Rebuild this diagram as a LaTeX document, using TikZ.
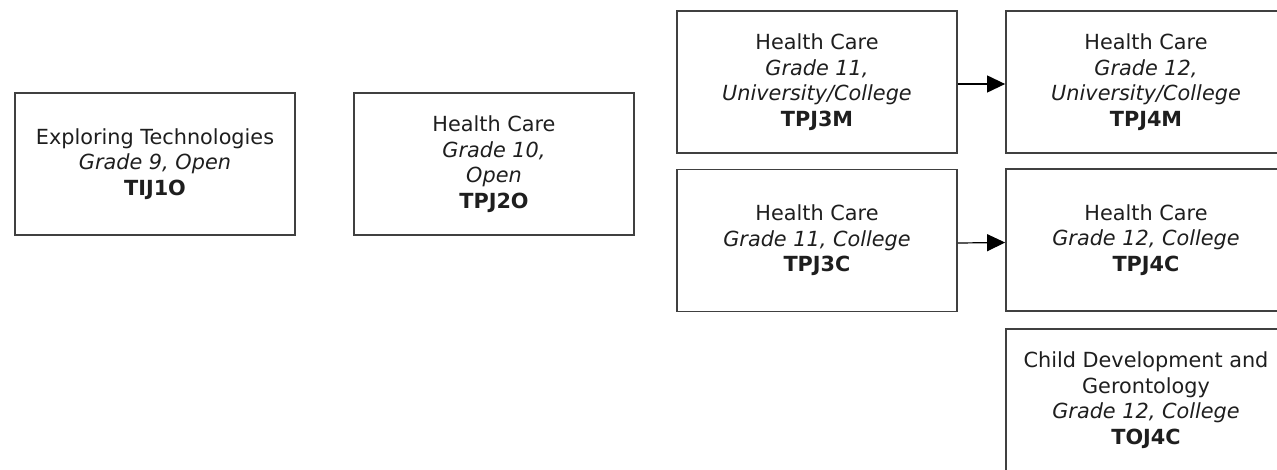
\documentclass[tikz,border=0pt]{standalone}
\usepackage{fontspec}
\setmainfont{DejaVu Sans}
\usetikzlibrary{arrows.meta}
\definecolor{boxline}{HTML}{404040}
\definecolor{txt}{HTML}{1E1E1E}
\newcommand{\gr}[1]{{\itshape #1}}
\newcommand{\cd}[1]{{\bfseries #1}}
\tikzset{
  course/.style={draw=boxline, line width=1.8pt, minimum width=280pt, minimum height=142pt,
    align=center, text=txt, inner sep=0pt, font=\fontsize{20.8pt}{25.5pt}\selectfont},
  flow/.style={draw=black, line width=1.2pt, -{Triangle[length=18pt,width=17pt]}}
}
\begin{document}
\begin{tikzpicture}[x=1pt,y=-1pt]
\useasboundingbox (0,0) rectangle (1277,469);
\clip (0,0) rectangle (1277,469);
\node[course] (tij) at (155,164) {Exploring Technologies\\ \gr{Grade 9, Open}\\ \cd{TIJ1O}};
\node[course] (tpj2) at (494,164) {Health Care\\ \gr{Grade 10,}\\ \gr{Open}\\ \cd{TPJ2O}};
\node[course] (tpj3m) at (817,82) {Health Care\\ \gr{Grade 11,}\\ \gr{University/College}\\ \cd{TPJ3M}};
\node[course] (tpj4m) at (1146,82) {Health Care\\ \gr{Grade 12,}\\ \gr{University/College}\\ \cd{TPJ4M}};
\node[course] (tpj3c) at (817,240.5) {Health Care\\ \gr{Grade 11, College}\\ \cd{TPJ3C}};
\node[course] (tpj4c) at (1146,240) {Health Care\\ \gr{Grade 12, College}\\ \cd{TPJ4C}};
\node[course] (toj4c) at (1146,400) {Child Development and\\ Gerontology\\ \gr{Grade 12, College}\\ \cd{TOJ4C}};
\draw[flow] ([yshift=-2pt]tpj3m.east) -- ([yshift=-2pt]tpj4m.west);
\draw[flow] ([yshift=-2.5pt]tpj3c.east) -- ([yshift=-2.5pt]tpj4c.west);
\end{tikzpicture}
\end{document}
